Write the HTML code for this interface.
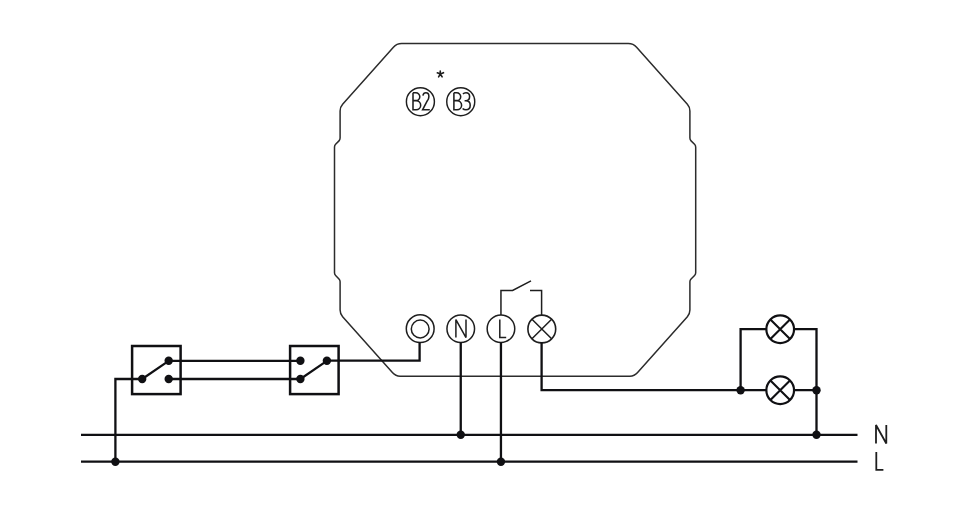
<!DOCTYPE html>
<html><head><meta charset="utf-8"><title>Wiring diagram</title>
<style>html,body{margin:0;padding:0;background:#fff;width:970px;height:517px;overflow:hidden;font-family:"Liberation Sans",sans-serif;}svg{display:block}</style>
</head><body>
<svg width="970" height="517" viewBox="0 0 970 517">
<rect width="970" height="517" fill="#fff"/>
<path d="M393.42 47.19 A11.00 11.00 0 0 1 401.64 43.50 L628.36 43.50 A11.00 11.00 0 0 1 636.58 47.19 L687.37 104.26 A10.00 10.00 0 0 1 689.90 110.91 L689.90 138.04 A4.00 4.00 0 0 0 691.07 140.87 L694.53 144.33 A4.00 4.00 0 0 1 695.70 147.16 L695.70 272.74 A4.00 4.00 0 0 1 694.53 275.57 L691.07 279.03 A4.00 4.00 0 0 0 689.90 281.86 L689.90 310.09 A10.00 10.00 0 0 1 687.37 316.74 L637.38 372.85 A10.00 10.00 0 0 1 629.92 376.20 L400.08 376.20 A10.00 10.00 0 0 1 392.62 372.85 L342.63 316.74 A10.00 10.00 0 0 1 340.10 310.09 L340.10 281.82 A4.00 4.00 0 0 0 338.98 279.04 L335.62 275.56 A4.00 4.00 0 0 1 334.50 272.78 L334.50 147.12 A4.00 4.00 0 0 1 335.62 144.34 L338.98 140.86 A4.00 4.00 0 0 0 340.10 138.08 L340.10 110.91 A10.00 10.00 0 0 1 342.63 104.26 Z" fill="none" stroke="#2c2c2c" stroke-width="1.5"/>
<circle cx="420.4" cy="101.7" r="14.0" fill="none" stroke="#1e1e1e" stroke-width="1.45"/>
<circle cx="460.75" cy="101.7" r="14.0" fill="none" stroke="#1e1e1e" stroke-width="1.45"/>
<path d="M413.0 92.8 H415.90 A3.90 3.90 0 0 1 415.90 100.6 M413.0 100.6 H416.10 A4.60 4.60 0 0 1 416.10 109.8 H413.0 Z M413.0 92.8 V109.8 M422.9 95.6 C423.3 93.6 424.4 92.8 425.9 92.8 C427.8 92.8 428.9 94.2 428.9 96.4 C428.9 98.2 428.2 99.6 427.2 101.0 L422.6 109.8 H429.8 M453.9 92.8 H456.80 A3.90 3.90 0 0 1 456.80 100.6 M453.9 100.6 H457.00 A4.60 4.60 0 0 1 457.00 109.8 H453.9 Z M453.9 92.8 V109.8 M463.0 94.0 C463.6 93.2 464.6 92.8 466.0 92.8 C468.3 92.8 469.6 94.4 469.6 96.6 C469.6 99.2 468.2 100.8 465.8 100.8 C468.5 100.8 470.2 102.6 470.2 105.2 C470.2 108.2 468.4 109.8 466.0 109.8 C464.5 109.8 463.4 109.3 462.6 108.4 M465.8 100.8 H464.6" fill="none" stroke="#1e1e1e" stroke-width="1.55" stroke-linejoin="miter"/>
<path d="M440.25 74.1 L440.25 71.0 M440.25 74.1 L437.3 72.75 M440.25 74.1 L443.5 72.7 M440.25 74.1 L438.6 76.8 M440.25 74.1 L442.1 76.8" fill="none" stroke="#1e1e1e" stroke-width="1.6" stroke-linecap="round"/>
<circle cx="420.2" cy="328.7" r="13.9" fill="none" stroke="#1e1e1e" stroke-width="1.5"/>
<circle cx="420.2" cy="329.0" r="8.9" fill="none" stroke="#1e1e1e" stroke-width="1.5"/>
<circle cx="460.75" cy="328.7" r="13.8" fill="none" stroke="#1e1e1e" stroke-width="1.5"/>
<circle cx="500.95" cy="328.7" r="13.8" fill="none" stroke="#1e1e1e" stroke-width="1.5"/>
<circle cx="541.8" cy="329.0" r="13.9" fill="none" stroke="#1e1e1e" stroke-width="1.6"/>
<path d="M455.9 337.6 V319.6 L466.0 337.6 V319.6" fill="none" stroke="#1e1e1e" stroke-width="1.5" stroke-linejoin="bevel"/>
<path d="M499.8 319.4 V337.4 H506.2" fill="none" stroke="#1e1e1e" stroke-width="1.5"/>
<path d="M531.97 319.17 L551.63 338.83 M551.63 319.17 L531.97 338.83" fill="none" stroke="#1e1e1e" stroke-width="1.5"/>
<path d="M500.95 314.9 V290.4 H512.6 L531.0 280.9 M530.0 290.4 H541.6 V315.09999999999997" fill="none" stroke="#1e1e1e" stroke-width="1.5"/>
<path d="M81 434.8 H857.5 M81 461.7 H857.5 M115.4 461.7 V379.0 H142.2 M168.7 360.8 H300.4 M168.7 379.0 H300.4 M326.9 360.6 H419.6 V342.59999999999997 M460.75 342.5 V434.8 M500.95 342.5 V461.7 M541.6 342.3 V390.2 H766.35 M740.6 390.2 V329.2 H766.35 M794.0500000000001 329.2 H816.5 V434.8 M794.0500000000001 390.2 H816.5" fill="none" stroke="#101013" stroke-width="2.3" stroke-linecap="butt" stroke-linejoin="miter"/>
<rect x="132.1" y="346.0" width="48.5" height="48.1" fill="none" stroke="#101013" stroke-width="2.5"/>
<rect x="290.1" y="346.0" width="48.5" height="48.1" fill="none" stroke="#101013" stroke-width="2.5"/>
<path d="M142.2 379.0 L168.7 360.8 M300.4 379.0 L326.9 360.8" fill="none" stroke="#101013" stroke-width="2.2"/>
<circle cx="142.2" cy="379.0" r="4.2" fill="#101013"/>
<circle cx="168.7" cy="360.8" r="4.2" fill="#101013"/>
<circle cx="168.7" cy="379.0" r="4.2" fill="#101013"/>
<circle cx="300.4" cy="360.8" r="4.2" fill="#101013"/>
<circle cx="300.4" cy="379.0" r="4.2" fill="#101013"/>
<circle cx="326.9" cy="360.8" r="4.2" fill="#101013"/>
<circle cx="115.4" cy="461.7" r="4.2" fill="#101013"/>
<circle cx="460.75" cy="434.8" r="4.2" fill="#101013"/>
<circle cx="500.95" cy="461.7" r="4.2" fill="#101013"/>
<circle cx="740.6" cy="390.2" r="4.2" fill="#101013"/>
<circle cx="816.5" cy="390.2" r="4.2" fill="#101013"/>
<circle cx="816.5" cy="434.8" r="4.2" fill="#101013"/>
<circle cx="780.2" cy="329.2" r="13.85" fill="none" stroke="#101013" stroke-width="2.2"/>
<path d="M770.41 319.41 L789.99 338.99 M789.99 319.41 L770.41 338.99" fill="none" stroke="#101013" stroke-width="2.1"/>
<circle cx="780.2" cy="390.3" r="13.85" fill="none" stroke="#101013" stroke-width="2.2"/>
<path d="M770.41 380.51 L789.99 400.09 M789.99 380.51 L770.41 400.09" fill="none" stroke="#101013" stroke-width="2.1"/>
<path d="M876.0 443.5 V425.0 L886.3 443.5 V425.0" fill="none" stroke="#1e1e1e" stroke-width="1.8" stroke-linejoin="bevel"/>
<path d="M876.3 451.9 V469.8 H883.4" fill="none" stroke="#1e1e1e" stroke-width="1.8"/>
</svg>
</body></html>
